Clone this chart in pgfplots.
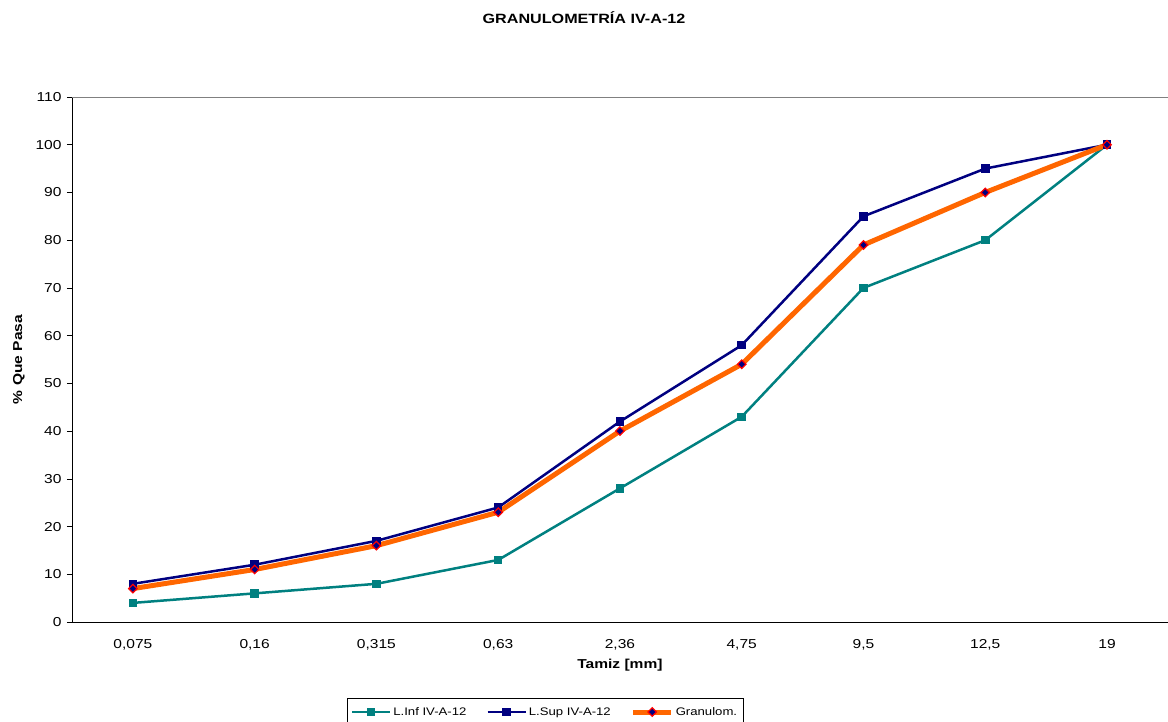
\documentclass[border=0pt]{standalone}
\usepackage{pgfplots}
\pgfplotsset{compat=1.18}
\usepackage{fontspec}
\setmainfont[FakeStretch=1.2]{Liberation Sans}
\definecolor{cteal}{RGB}{0,128,128}
\definecolor{cnavy}{RGB}{0,0,128}
\definecolor{corange}{RGB}{255,102,0}
\begin{document}
\begin{tikzpicture}
\useasboundingbox (-72bp,-100bp) rectangle (1096bp,622bp);
\begin{axis}[
  scale only axis, width=1096bp, height=525bp,
  xmin=-0.5, xmax=8.5, ymin=0, ymax=110,
  axis lines=left, axis line style={-, black, line width=0.8bp},
  xtick={0,...,8},
  xticklabels={{0,075},{0,16},{0,315},{0,63},{2,36},{4,75},{9,5},{12,5},{19}},
  minor xtick={-0.5,0.5,...,8.5},
  ytick={0,10,...,110},
  xtick style={draw=none},
  minor x tick style={black, line width=0.6bp},
  ytick style={black, line width=0.6bp},
  major tick length=5bp, minor tick length=5bp,
  tick align=outside,
  /pgf/number format/assume math mode=true,
  tick label style={font=\fontsize{13}{15}\selectfont},
  xticklabel style={yshift=-9bp},
  yticklabel style={xshift=-2bp},
  xlabel={\textbf{Tamiz [mm]}}, ylabel={\textbf{\% Que Pasa}},
  label style={font=\fontsize{13}{15}\selectfont},
  xlabel style={yshift=-2bp},
  ylabel style={yshift=4bp},
  clip=false,
  legend columns=3,
  legend style={at={(0.4316,-0.1448)}, anchor=north, draw=black, line width=0.6bp,
    font=\fontsize{11}{13}\selectfont,
    /tikz/every even column/.append style={column sep=18bp},
    inner xsep=4bp, inner ysep=7bp},
  legend image code/.code={\draw[mark repeat=2,mark phase=2,#1] plot coordinates {(0bp,0bp) (19bp,0bp) (38bp,0bp)};},
]
\draw[gray, line width=0.8bp] (rel axis cs:0,1) -- (rel axis cs:1,1);
\addplot[cteal, line width=2.5bp, mark=square*, mark size=3bp, mark options={fill=cteal}] coordinates {
(0,4) (1,6) (2,8) (3,13) (4,28) (5,43) (6,70) (7,80) (8,100)};
\addlegendentry{L.Inf IV-A-12}
\addplot[cnavy, line width=2.5bp, mark=square*, mark size=3bp, mark options={fill=cnavy}] coordinates {
(0,8) (1,12) (2,17) (3,24) (4,42) (5,58) (6,85) (7,95) (8,100)};
\addlegendentry{L.Sup IV-A-12}
\addplot[corange, line width=5bp, mark=square*, mark size=3bp, mark options={rotate=45, fill=cnavy, draw=red, line width=1.2bp}] coordinates {
(0,7) (1,11) (2,16) (3,23) (4,40) (5,54) (6,79) (7,90) (8,100)};
\addlegendentry{Granulom.}
\end{axis}
\node[font=\fontsize{13.5}{15}\selectfont\bfseries] at (512bp,604bp) {GRANULOMETRÍA IV-A-12};
\end{tikzpicture}
\end{document}
